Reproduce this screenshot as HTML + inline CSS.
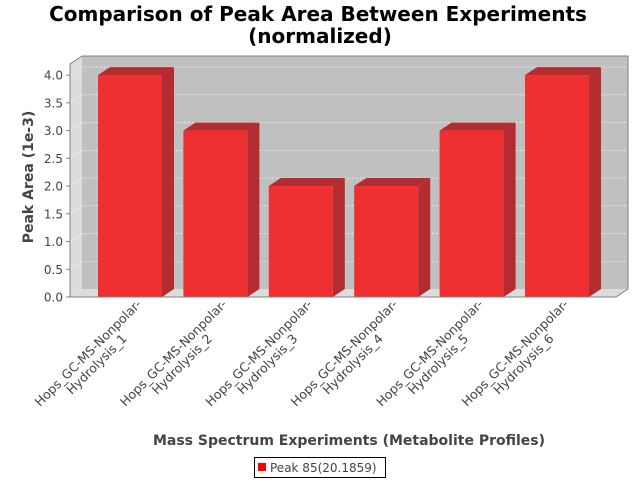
<!DOCTYPE html>
<html><head><meta charset="utf-8"><style>
body{margin:0;background:#fff;}
svg{display:block;font-family:"DejaVu Sans","Liberation Sans",sans-serif;}
</style></head><body>
<svg id="chart" width="640" height="480" viewBox="0 0 640 480">
<rect width="640" height="480" fill="#fff"/>
<text x="318" y="21" text-anchor="middle" font-size="20" font-weight="bold" fill="#000">Comparison of Peak Area Between Experiments</text>
<text x="320" y="43" text-anchor="middle" font-size="20" font-weight="bold" fill="#000">(normalized)</text>
<g id="plot">
<polygon points="82,56 628,56 628,289 82,289" fill="#c0c0c0"/>
<polygon points="70,64 82,56 82,289 70,297" fill="#dcdcdc"/>
<polygon points="70,297 82,289 628,289 616,297" fill="#dcdcdc"/>
<g id="grid"></g>
<g id="bars"></g>
<polyline points="70,297 70,64 82,56 628,56 628,289 616,297 70,297" fill="none" stroke="#808080" stroke-width="1"/>
<g id="yaxis"></g>
<g id="xaxis"></g>
</g>
<text transform="translate(33,177) rotate(-90)" text-anchor="middle" font-size="14" font-weight="bold" fill="#444">Peak Area (1e-3)</text>
<text x="349" y="445" text-anchor="middle" font-size="14" font-weight="bold" fill="#444">Mass Spectrum Experiments (Metabolite Profiles)</text>
<g>
<rect x="254.5" y="457.5" width="131" height="20" fill="#fff" stroke="#000"/>
<rect x="258" y="463" width="8" height="8" fill="#ff0000"/>
<text x="270" y="472" font-size="12" fill="#444">Peak 85(20.1859)</text>
</g>
</svg>
<script>
const categories=["Hydrolysis_1","Hydrolysis_2","Hydrolysis_3","Hydrolysis_4","Hydrolysis_5","Hydrolysis_6"];
const values=[4.0,3.0,2.0,2.0,3.0,4.0];
const yTicks=[0,0.5,1,1.5,2,2.5,3,3.5,4];
const yTickLabels=["0.0","0.5","1.0","1.5","2.0","2.5","3.0","3.5","4.0"];
const NS="http://www.w3.org/2000/svg";
const DX=12,DY=8,Y0=297,YMAX=4.2,PH=297-64;
function y(v){return Y0-v/YMAX*PH;}
function xBand(i){return 98+i*85.4;}
const BW=64;
function mk(t,a,p){const e=document.createElementNS(NS,t);for(const k in a)e.setAttribute(k,a[k]);p.appendChild(e);return e;}
const grid=document.getElementById('grid'),yax=document.getElementById('yaxis'),bars=document.getElementById('bars'),xax=document.getElementById('xaxis');
yTicks.forEach((v,i)=>{
  const yy=y(v);
  if(v>0){
    const g=mk('polyline',{points:`70,${yy} 82,${yy-DY} 628,${yy-DY}`,fill:'none',stroke:'#fff','stroke-width':0.6,'stroke-dasharray':'2,2'},grid);
    
    
  }
  const tk=mk('line',{x1:66,y1:yy,x2:70,y2:yy,stroke:'#808080'},yax);
  
  
  const t=mk('text',{x:63,y:yy+4.5,'text-anchor':'end','font-size':12,fill:'#444'},yax);
  t.textContent=yTickLabels[i];
  
  
});
values.forEach((v,i)=>{
  const x0=xBand(i),x1=x0+BW,yt=y(v);
  const g=mk('g',{},bars);
  
  
  mk('polygon',{points:`${x0},${yt} ${x0+DX},${yt-DY} ${x1+DX},${yt-DY} ${x1},${yt}`,fill:'#b32d30'},g);
  mk('polygon',{points:`${x1},${yt} ${x1+DX},${yt-DY} ${x1+DX},${Y0-DY} ${x1},${Y0}`,fill:'#b32d30'},g);
  mk('rect',{x:x0,y:yt,width:BW,height:Y0-yt,fill:'#ef3033'},g);
  const cx=x0+BW/2;
  const lg=mk('g',{transform:`translate(${cx+5},${298}) rotate(-45)`,'font-size':12.5,fill:'#444'},xax);
  
  
  const t1=mk('text',{x:0,y:10,'text-anchor':'end'},lg);t1.textContent='Hops_GC-MS-Nonpolar-';
  const t2=mk('text',{x:-74,y:24,'text-anchor':'middle'},lg);t2.textContent=categories[i];
});
</script>
</body></html>
